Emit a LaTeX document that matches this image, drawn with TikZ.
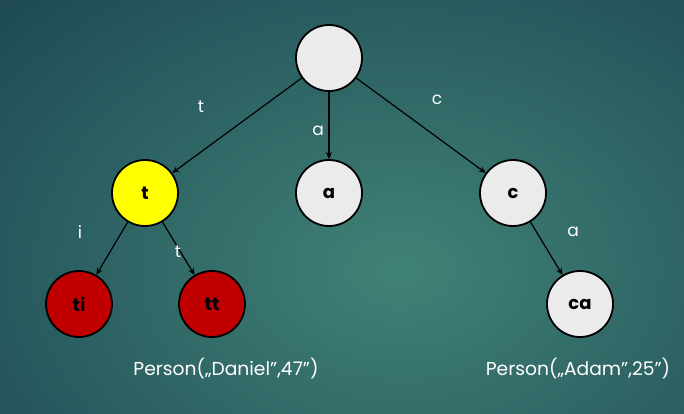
\documentclass[tikz,border=0pt]{standalone}
\usepackage{fontspec}
\setmainfont{Poppins}
\usetikzlibrary{arrows.meta}
\definecolor{bgD}{HTML}{1A4251}
\definecolor{bgL}{HTML}{408276}
\definecolor{knotF}{HTML}{EBEBEB}
\definecolor{hitF}{HTML}{FFFF00}
\definecolor{leafF}{HTML}{C00000}
\tikzset{
  knot/.style={circle, draw=black, line width=1.8pt, fill=knotF, minimum size=66pt, inner sep=0pt,
               font=\fontsize{18}{18}\selectfont\bfseries},
  hit/.style={knot, fill=hitF},
  leaf/.style={knot, fill=leafF},
  arr/.style={-{Stealth[length=7pt,width=6pt]}, draw=black, line width=1.2pt},
  lab/.style={text=white, font=\fontsize{17}{17}\selectfont, inner sep=1pt},
  val/.style={text=white, font=\fontsize{18.7}{19}\selectfont, inner sep=1pt},
}

\begin{document}
\begin{tikzpicture}[x=1pt, y=-1pt]
\useasboundingbox (0,0) rectangle (684,413);
\begin{scope}
\clip (0,0) rectangle (684,413);
\shade[inner color=bgL, outer color=bgD] (-220,-170) rectangle (1020,710);
\end{scope}
% trie nodes
\node[knot] (R)  at (329,58)  {};
\node[hit]  (T)  at (145,193) {t};
\node[knot] (A)  at (329,193) {a};
\node[knot] (C)  at (513,193) {c};
\node[leaf] (TI) at (79,304)  {ti};
\node[leaf] (TT) at (212,304) {tt};
\node[knot] (CA) at (580,304) {ca};
% edges
\draw[arr] (R) -- (T);
\draw[arr] (R) -- (A);
\draw[arr] (R) -- (C);
\draw[arr] (T) -- (TI);
\draw[arr] (T) -- (TT);
\draw[arr] (C) -- (CA);
% edge letters
\node[lab] (lt)  at (201,107) {t};
\node[lab] (la)  at (318,131) {a};
\node[lab] (lc)  at (437,100) {c};
\node[lab] (li)  at (80,232)  {i};
\node[lab] (ltt) at (178,252) {t};
\node[lab] (lca) at (573,232) {a};
% stored values
\node[val] (vD) at (226,368) {Person(„Daniel”,47”)};
\node[val] (vA) at (578,368) {Person(„Adam”,25”)};
\end{tikzpicture}
\end{document}
